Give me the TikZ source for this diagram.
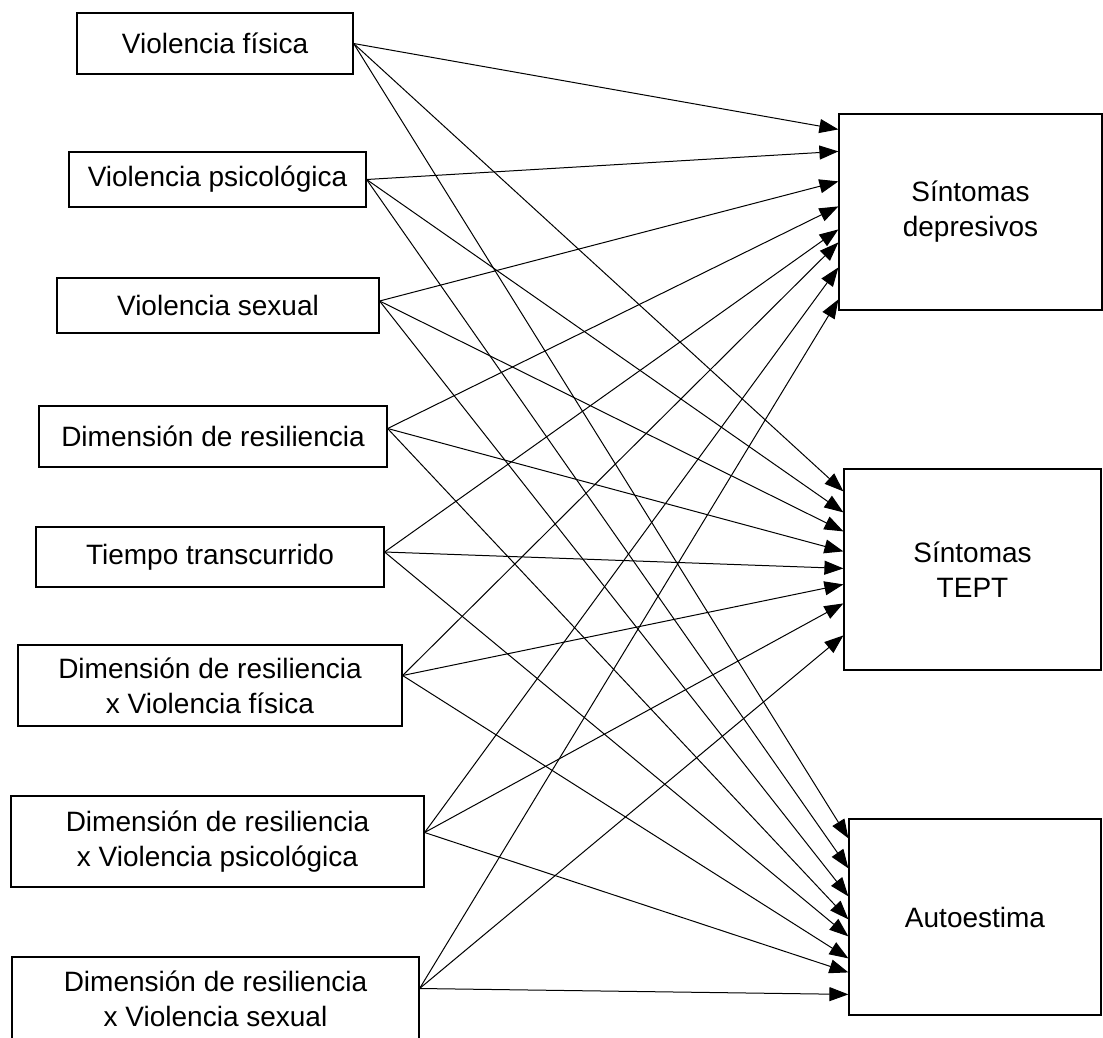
\documentclass[tikz,border=0pt]{standalone}
\usepackage{fontspec}
\setmainfont{Liberation Sans}
\usetikzlibrary{arrows.meta}
\begin{document}
\begin{tikzpicture}[x=0.5pt,y=-0.5pt,
  box/.style={draw=black, line width=0.6pt, inner sep=0pt, align=center, font=\fontsize{14}{17.5}\selectfont},
  arr/.style={line width=0.5pt, -{Triangle[length=9.5pt,width=7pt]}}]
\useasboundingbox (0,0) rectangle (1103,1038);
% left boxes
\node[box, minimum width=138pt, minimum height=30.5pt] (n1) at (215,43.5) {Violencia física};
\node[box, minimum width=148.5pt, minimum height=27.5pt] (n2) at (217.5,179.5) {Violencia psicológica};
\node[box, minimum width=161pt, minimum height=27.5pt] (n3) at (218,305.5) {Violencia sexual};
\node[box, minimum width=174pt, minimum height=30.5pt] (n4) at (213,436.5) {Dimensión de resiliencia};
\node[box, minimum width=174pt, minimum height=30pt] (n5) at (210,557) {Tiempo transcurrido};
\node[box, minimum width=192pt, minimum height=40.5pt] (n6) at (210,685.5) {Dimensión de resiliencia\\x Violencia física};
\node[box, minimum width=206.5pt, minimum height=45.5pt] (n7) at (217.5,841.5) {Dimensión de resiliencia\\x Violencia psicológica};
\node[box, minimum width=203.5pt, minimum height=41.5pt] (n8) at (215.5,998.5) {Dimensión de resiliencia\\x Violencia sexual};
% right boxes
\node[box, minimum width=131.5pt, minimum height=98pt] (D) at (970.5,212) {Síntomas\\depresivos};
\node[box, minimum width=128.5pt, minimum height=100.5pt] (T) at (972.5,569.5) {Síntomas\\TEPT};
\node[box, minimum width=126pt, minimum height=98pt] (A) at (975,917) {Autoestima};
% connectors
\foreach \s/\ys/\a/\b/\c in {n1/0/8/11.5/10, n2/0/19/22/25, n3/2.25/34/31.5/39, n4/4/46.5/41.5/50.5, n5/2.5/58/50/59, n6/5/64.5/58/70, n7/4.5/77/67.5/77, n8/5/93/83.5/88}{
  \draw[arr] ([yshift=\ys pt]\s.east) -- ([yshift=-\a pt]D.north west);
  \draw[arr] ([yshift=\ys pt]\s.east) -- ([yshift=-\b pt]T.north west);
  \draw[arr] ([yshift=\ys pt]\s.east) -- ([yshift=-\c pt]A.north west);
}
\end{tikzpicture}
\end{document}
